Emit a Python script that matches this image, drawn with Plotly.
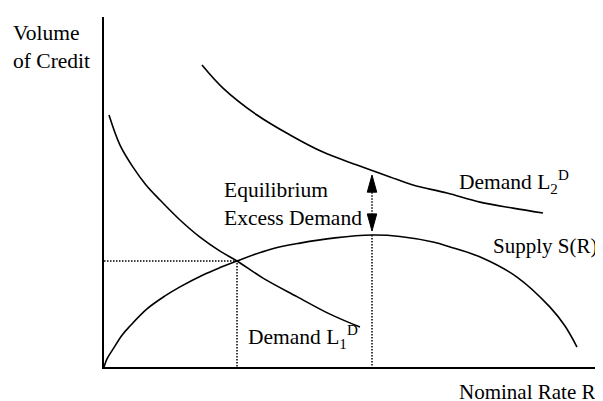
import plotly.graph_objects as go

# ---- data (Nominal rate R, Volume of credit) ----
supply_r = [0, 0.6, 1.8, 3.6, 5.2, 8.6, 12.2, 15.2, 19.8, 23.2, 26.6, 33.2, 39.2, 46.2,
            53.6, 59.2, 65.8, 69.2, 75.8, 82.6, 89.2, 92.2, 94.6]
supply_v = [0, 2.3, 5.1, 9.1, 11.7, 16.6, 20.3, 22.9, 26.3, 28.4, 30.3, 33.6, 35.4, 36.9,
            37.7, 37.3, 35.7, 34.3, 31.1, 25.7, 17.1, 11.7, 5.7]

demand1_r = [1.0, 3.2, 5.8, 8.4, 11.2, 15.2, 19.2, 23.2, 26.6, 31.8, 38.6, 45.2, 51.2]
demand1_v = [72.0, 63.4, 57.1, 52.0, 47.7, 42.0, 37.1, 33.1, 30.3, 25.4, 20.1, 15.1, 11.4]

demand2_r = [19.6, 23.8, 30.6, 37.2, 43.8, 50.6, 57.2, 61.8, 68.6, 75.2, 81.8, 87.8]
demand2_v = [86.3, 79.7, 72.0, 66.3, 61.4, 57.7, 54.3, 52.0, 49.7, 47.1, 45.4, 44.0]

# equilibrium point (Demand L1 meets supply) and supply peak
eq_r, eq_v = 26.6, 30.3
peak_r, peak_v = 53.6, 37.7
demand2_at_peak = 56.0

X_MAX, Y_MAX = 99.8, 100.0

# page body has an 8px default margin; compensate so the plot lands where it should
OFF = 8
W, H = 603 - OFF, 401 - OFF
PL, PR, PT, PB = 104, 603, 17, 367   # target page pixels of the plot area


def px_x(px):
    return (px - PL) / (PR - PL)


def px_y(py):
    return (PB - py) / (PB - PT)


FONT = "Liberation Serif"
BLACK = "#000000"

fig = go.Figure()

curve_line = dict(color=BLACK, width=1.6, shape="spline", smoothing=1.0)
fig.add_trace(go.Scatter(x=supply_r, y=supply_v, mode="lines", line=curve_line, hoverinfo="skip"))
fig.add_trace(go.Scatter(x=demand1_r, y=demand1_v, mode="lines", line=curve_line, hoverinfo="skip"))
fig.add_trace(go.Scatter(x=demand2_r, y=demand2_v, mode="lines", line=curve_line, hoverinfo="skip"))

dot = dict(color=BLACK, width=1.5, dash="1.5px,1.5px")
# dotted guide lines
fig.add_trace(go.Scatter(x=[0, eq_r, eq_r], y=[eq_v, eq_v, 0], mode="lines", line=dot, hoverinfo="skip"))
fig.add_trace(go.Scatter(x=[peak_r, peak_r], y=[peak_v, 0], mode="lines", line=dot, hoverinfo="skip"))

# double arrow showing excess demand
gap = 1.15          # distance of tips from curves (data units)
head_len = 4.9      # arrowhead length (data units)
head_hw = 0.95      # arrowhead half width (data units)
top_tip = demand2_at_peak - gap
bot_tip = peak_v + gap
fig.add_trace(go.Scatter(x=[peak_r, peak_r], y=[top_tip - head_len, bot_tip + head_len],
                         mode="lines", line=dot, hoverinfo="skip"))
fig.add_trace(go.Scatter(x=[peak_r, peak_r - head_hw, peak_r + head_hw, peak_r],
                         y=[top_tip, top_tip - head_len, top_tip - head_len, top_tip],
                         mode="lines", fill="toself", fillcolor=BLACK,
                         line=dict(color=BLACK, width=1), hoverinfo="skip"))
fig.add_trace(go.Scatter(x=[peak_r, peak_r - head_hw, peak_r + head_hw, peak_r],
                         y=[bot_tip, bot_tip + head_len, bot_tip + head_len, bot_tip],
                         mode="lines", fill="toself", fillcolor=BLACK,
                         line=dict(color=BLACK, width=1), hoverinfo="skip"))

# (text, x pixel, anchor, centre y pixel, size)
labels = [
    ("Volume", 11, "left", 33, 21.5),
    ("of Credit", 11, "left", 61, 21.5),
    ("Equilibrium", 222, "left", 190, 21.5),
    ("Excess Demand", 222, "left", 218, 21.5),
    ("Demand L<sub>2</sub><sup>D</sup>", 457, "left", 182, 21.5),
    ("Supply S(R)", 599, "right", 246, 21),
    ("Demand L<sub>1</sub><sup>D</sup>", 246, "left", 337, 21.5),
    ("Nominal Rate R", 597, "right", 392, 21),
]
for text, lx, anchor, cy, size in labels:
    fig.add_annotation(text=text, xref="paper", yref="paper", x=px_x(lx), y=px_y(cy),
                       xanchor=anchor, yanchor="middle", showarrow=False,
                       font=dict(family=FONT, size=size, color=BLACK), align="left")

axis_common = dict(showgrid=False, zeroline=False, showticklabels=False, ticks="",
                   showline=True, linecolor=BLACK, linewidth=2, fixedrange=True)
fig.update_xaxes(range=[0, X_MAX], **axis_common)
fig.update_yaxes(range=[0, Y_MAX], **axis_common)

fig.update_layout(
    width=W, height=H,
    margin=dict(l=PL - OFF, r=603 - PR, t=PT - OFF, b=401 - PB),
    paper_bgcolor="white", plot_bgcolor="white",
    showlegend=False,
)

fig.write_html("out.html")
